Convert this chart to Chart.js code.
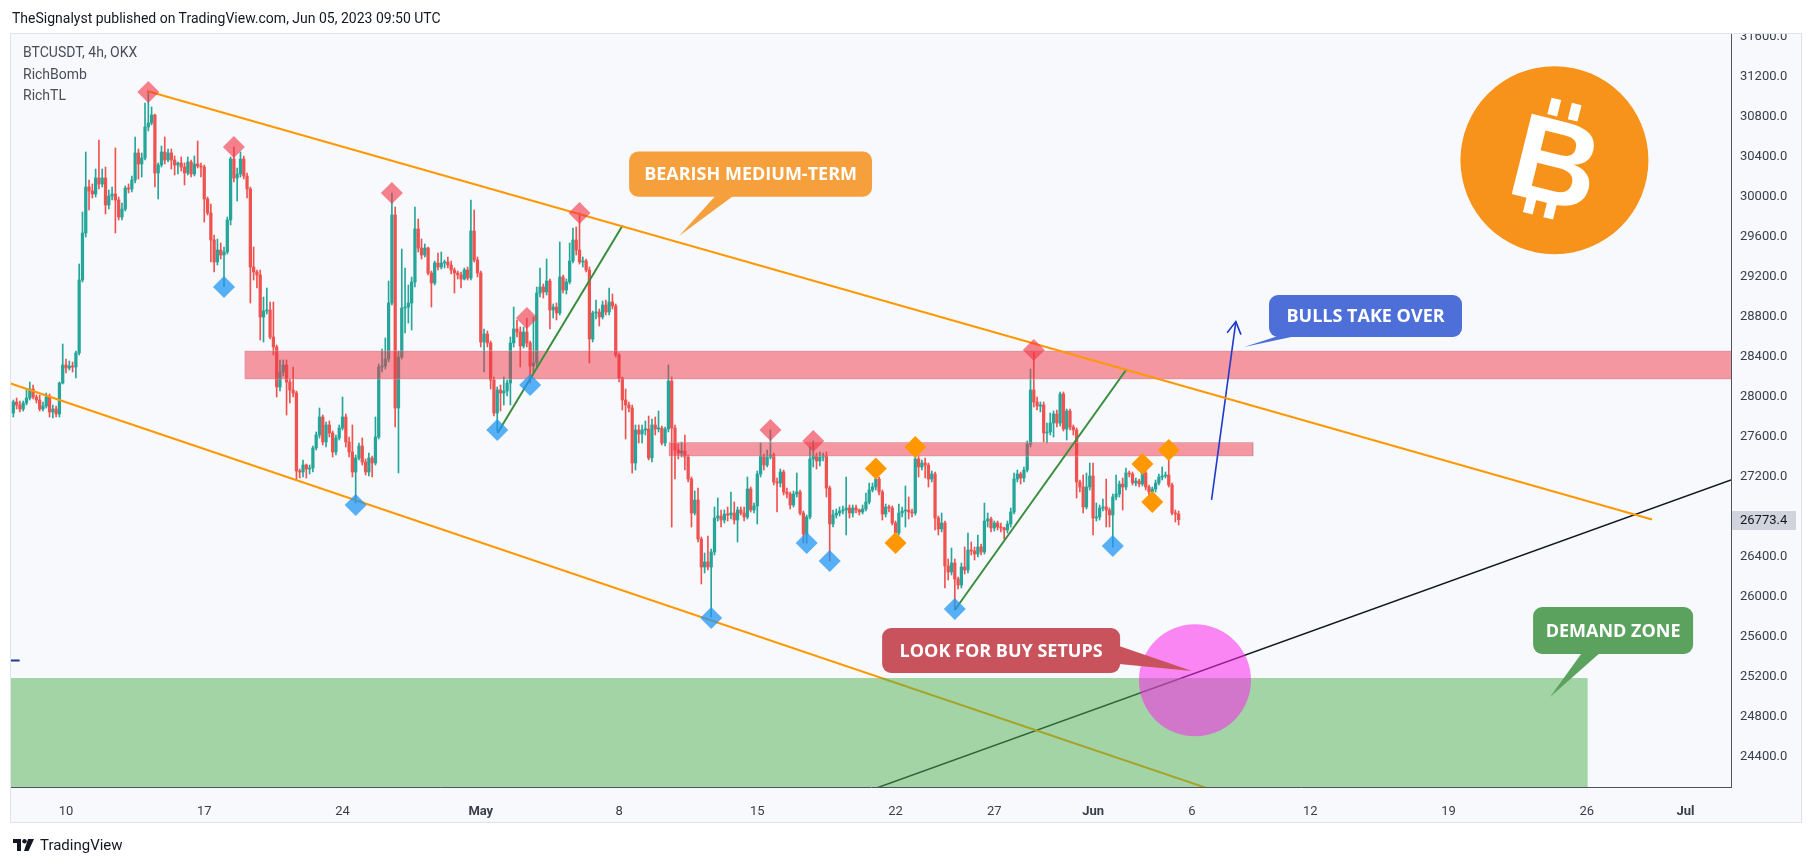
<!DOCTYPE html>
<html>
<head>
<meta charset="utf-8">
<script src="https://cdn.jsdelivr.net/npm/chart.js@4.4.0/dist/chart.umd.min.js"></script>
<style>
  html, body { margin: 0; padding: 0; background: #fff; }
  #wrap { position: relative; width: 1814px; height: 866px; overflow: hidden; }
  #chart { position: absolute; left: 0; top: 0; }
  .hdr { position: absolute; left: 12px; top: 8px; font: 14px Roboto, sans-serif; color: #131722; line-height: 20px; }
  .legend { position: absolute; left: 23px; top: 42px; font: 14px Roboto, sans-serif; color: #4a4d57; line-height: 21.5px; }
  .foot { position: absolute; left: 13px; top: 836px; font: 15px Roboto, sans-serif; color: #131722; display: flex; align-items: center; gap: 5px; }
</style>
</head>
<body>
<div id="wrap">
  <canvas id="chart" width="1814" height="866"></canvas>
  <div class="hdr">TheSignalyst published on TradingView.com, Jun 05, 2023 09:50 UTC</div>
  <div class="legend">BTCUSDT, 4h, OKX<br>RichBomb<br>RichTL</div>
  <div class="foot">
    <svg width="22" height="14" viewBox="0 0 22 14"><rect x="0" y="1" width="8" height="4" fill="#131722"/><rect x="4" y="1" width="4" height="12" fill="#131722"/><circle cx="11.5" cy="3.2" r="2.2" fill="#131722"/><polygon points="15,1 21,1 15.5,13 11,13" fill="#131722"/></svg>
    <span>TradingView</span>
  </div>
</div>
<script>
// time axis: days counted from Apr 1 2023 00:00 UTC, 4h candles from Apr 7 08:00
const firstBarDay = 6 + 1 / 3;
const barStep = 1 / 6;

const opens = [
  27840,27950,27920,27880,27940,27990, 28080,28000,27970,27880,27910,28000,
  27850,27880,27830,28140,28320,28290, 28310,28300,28440,29170,29640,30100,
  30060,30030,30190,30130,30190,29920, 30010,30030,29970,29800,29880,30090,
  30080,30170,30440,30330,30390,30700, 30740,30820,30240,30320,30450,30370,
  30440,30370,30320,30340,30300,30240, 30350,30230,30330,30310,30300,29980,
  29840,29570,29350,29470,29420,29450, 29770,30380,30190,30230,30380,30210,
  30080,29300,29250,29220,28800,28860, 28870,28600,28500,28100,28250,28320,
  28150,28070,28040,27260,27250,27320, 27280,27290,27490,27620,27800,27550,
  27720,27640,27450,27590,27690,27800, 27550,27450,27250,27390,27510,27350,
  27250,27390,27340,27600,28300,28310, 28380,28940,29820,27890,28400,28890,
  28900,28940,29150,29680,29490,29420, 29490,29240,29140,29340,29300,29340,
  29350,29320,29270,29240,29220,29180, 29270,29190,29660,29370,29240,28550,
  28630,28540,28170,27840,28070,28040, 28060,28140,28540,28680,28650,28510,
  28650,28540,28310,28340,29040,29100, 29050,29160,28870,28900,28840,29200,
  29070,29150,29360,29570,29470,29350, 29360,29270,28580,28840,28850,28800,
  28920,28850,28950,28910,28420,28190, 27970,27920,27890,27340,27670,27630,
  27670,27680,27390,27720,27680,27690, 27540,27680,28160,27690,27470,27440,
  27460,27400,27180,26840,26970,26580, 26300,26350,26300,26450,26790,26810,
  26770,26830,26820,26840,26770,26870, 26840,26800,27080,26870,26910,27230,
  27410,27320,27400,27420,27150,27140, 27250,27050,27030,26920,27030,27050,
  26840,26630,26800,27380,27410,27360, 27400,27410,27090,26730,26820,26840,
  26860,26870,26890,26840,26890,26870, 26850,26880,26950,27070,27100,27180,
  27050,26830,26900,26890,26740,26640, 26840,26860,26870,26850,26840,27380,
  27300,27340,27320,27180,27230,26790, 26680,26740,26310,26250,26340,26180,
  26120,26300,26270,26470,26460,26430, 26500,26450,26760,26780,26690,26740,
  26700,26690,26670,26730,26850,27180, 27230,27190,27270,27530,28070,27950,
  27910,27920,27640,27650,27740,27830, 27740,28030,27680,27860,27700,27670,
  27150,27100,26900,27100,27210,26790, 26800,26890,26900,26870,26820,27000,
  27030,27130,27100,27240,27230,27140, 27160,27130,27240,27100,27050,27080,
  27140,27200,27210,27220,27120,26840, 26830
];
const highs = [
  27970,27990,27960,27960,28070,28150, 28120,28020,28020,27950,28040,28030,
  27920,27910,28150,28530,28380,28360, 28350,28460,29330,29850,30450,30170,
  30130,30280,30570,30280,30300,30070, 30100,30490,30000,29940,30110,30130,
  30210,30600,30480,30440,30940,31050, 30900,30830,30340,30510,30600,30480,
  30480,30410,30350,30400,30340,30400, 30370,30410,30560,30340,30320,30000,
  29930,29620,29580,29540,29500,29800, 30400,30500,30290,30450,30410,30240,
  30100,29500,29270,29270,29000,29090, 28950,28950,28520,28370,28370,28370,
  28180,28300,28060,27280,27370,27330, 27320,27510,27650,27890,27820,27750,
  27760,27660,27620,27720,28000,27830, 27600,27720,27420,27540,27590,27380,
  27440,27410,27800,28330,28480,28590, 29160,30040,29900,28460,29480,29290,
  29120,29200,29900,29780,29580,29530, 29500,29260,29360,29440,29450,29370,
  29400,29360,29290,29260,29250,29290, 29300,29970,29870,29400,29260,28680,
  28660,28560,28200,28100,28120,28200, 28170,28600,28900,28770,28700,28700,
  28790,28560,28800,29100,29290,29130, 29380,29180,28930,28940,29550,29220,
  29180,29540,29690,29700,29840,29400, 29380,29300,28860,28970,28880,28960,
  28970,29090,29030,28930,28440,28200, 28080,27950,27920,27720,27720,27720,
  27760,27810,27780,27800,27860,27710, 27700,28320,28200,27720,27530,27550,
  27620,27420,27200,27060,27090,26600, 26440,26610,26480,26900,26990,26870,
  26870,26900,27050,26950,26900,26900, 26900,27200,27100,26940,27260,27540,
  27430,27470,27670,27440,27190,27280, 27270,27090,27050,27060,27240,27070,
  26860,26820,27500,27560,27440,27450, 27440,27450,27110,26870,26880,26900,
  26910,27200,26920,26920,26920,26880, 26920,27040,27140,27140,27200,27200,
  27070,26930,26920,26910,26760,26930, 26900,27110,27000,26880,27430,27410,
  27370,27390,27340,27260,27250,26810, 26840,26760,26380,26490,26380,26200,
  26340,26500,26640,26550,26500,26620, 26530,26940,26840,26800,26760,26760,
  26740,26700,26760,26890,27240,27270, 27250,27300,27560,28280,28450,28000,
  27950,27950,27740,27840,27860,27870, 28050,28050,27880,27880,27720,27690,
  27170,27220,27240,27340,27340,26940, 26920,26980,27180,26890,27030,27220,
  27160,27190,27290,27260,27250,27190, 27180,27270,27280,27120,27100,27170,
  27230,27300,27250,27470,27140,26870, 26860
];
const lows = [
  27800,27880,27850,27860,27920,27970, 27980,27940,27860,27860,27890,27800,
  27790,27800,27800,28130,28240,28270, 28250,28190,28420,29150,29600,29870,
  29990,30000,30080,30100,29830,29880, 29970,29640,29770,29770,29860,30040,
  30050,30140,30180,30200,30370,30660, 30720,30100,29980,30300,30330,30350,
  30280,30220,30230,30260,30120,30220, 30200,30210,30290,30200,29750,29820,
  29350,29250,29320,29380,29100,29430, 29720,30150,29960,30200,30180,29990,
  28940,29170,29090,28570,28550,28830, 28580,28420,28000,28060,28210,27820,
  27940,28000,27170,27190,27200,27190, 27230,27250,27470,27590,27520,27500,
  27600,27400,27420,27570,27670,27500, 27400,27200,26940,27370,27320,27220,
  27210,27200,27320,27580,28250,28280, 28350,28920,27700,27240,28380,28640,
  28740,28670,29100,29450,29380,29400, 29220,28900,29120,29270,29280,29290,
  29290,29230,29040,29180,29090,29170, 29170,29170,29350,29200,28500,28250,
  28500,28080,27810,27660,27860,27920, 28010,27920,28500,28600,28300,28490,
  28500,28140,28250,28300,29000,28990, 29020,28680,28790,28770,28820,29040,
  29030,29130,29340,29420,29330,29300, 29250,28340,28550,28780,28710,28780,
  28820,28820,28880,28400,28150,27870, 27580,27850,27240,27270,27540,27540,
  27620,27370,27350,27620,27650,27520, 27510,27650,26700,27180,27380,27400,
  27270,27150,26700,26820,26550,26130, 26240,26270,25800,26420,26760,26700,
  26740,26760,26780,26730,26550,26820, 26760,26780,26850,26840,26730,27200,
  27270,27300,27380,27120,26850,27100, 27020,26990,26880,26900,27000,26820,
  26540,26540,26780,27300,27280,27310, 27360,27000,26360,26700,26790,26810,
  26830,26620,26790,26800,26840,26820, 26830,26860,26930,27050,27070,27020,
  26770,26800,26850,26720,26620,26620, 26800,26700,26780,26800,26820,27200,
  27270,27190,27100,27150,26670,26620, 26650,26090,26170,26220,25870,26080,
  26090,26230,26240,26420,26370,26400, 26420,26430,26700,26650,26660,26670,
  26650,26580,26640,26700,26830,27150, 27130,27150,27250,27500,27900,27870,
  27850,27550,27540,27620,27600,27700, 27710,27660,27570,27670,27620,26990,
  27050,26840,26880,27070,26620,26760, 26770,26860,26700,26700,26500,26970,
  27000,26870,27070,27200,27120,27110, 27100,27110,27070,27000,27000,27050,
  27120,27170,27190,27100,26820,26750, 26720
];
const closes = [
  27950,27920,27880,27940,27990,28080, 28000,27970,27880,27910,28000,27850,
  27880,27830,28140,28320,28290,28310, 28300,28440,29170,29640,30100,30060,
  30030,30190,30130,30190,29920,30010, 30030,29970,29800,29880,30090,30080,
  30170,30440,30330,30390,30700,30740, 30820,30240,30320,30450,30370,30440,
  30370,30320,30340,30300,30240,30350, 30230,30330,30310,30300,29980,29840,
  29570,29350,29470,29420,29450,29770, 30380,30190,30230,30380,30210,30080,
  29300,29250,29220,28800,28860,28870, 28600,28500,28100,28250,28320,28150,
  28070,28040,27260,27250,27320,27280, 27290,27490,27620,27800,27550,27720,
  27640,27450,27590,27690,27800,27550, 27450,27250,27390,27510,27350,27250,
  27390,27340,27600,28300,28310,28380, 28940,29820,27890,28400,28890,28900,
  28940,29150,29680,29490,29420,29490, 29240,29140,29340,29300,29340,29350,
  29320,29270,29240,29220,29180,29270, 29190,29660,29370,29240,28550,28630,
  28540,28170,27840,28070,28040,28060, 28140,28540,28680,28650,28510,28650,
  28540,28310,28340,29040,29100,29050, 29160,28870,28900,28840,29200,29070,
  29150,29360,29570,29470,29350,29360, 29270,28580,28840,28850,28800,28920,
  28850,28950,28910,28420,28190,27970, 27920,27890,27340,27670,27630,27670,
  27680,27390,27720,27680,27690,27540, 27680,28160,27690,27470,27440,27460,
  27400,27180,26840,26970,26580,26300, 26350,26300,26450,26790,26810,26770,
  26830,26820,26840,26770,26870,26840, 26800,27080,26870,26910,27230,27410,
  27320,27400,27420,27150,27140,27250, 27050,27030,26920,27030,27050,26840,
  26630,26800,27380,27410,27360,27400, 27410,27090,26730,26820,26840,26860,
  26870,26890,26840,26890,26870,26850, 26880,26950,27070,27100,27180,27050,
  26830,26900,26890,26740,26640,26840, 26860,26870,26850,26840,27380,27300,
  27340,27320,27180,27230,26790,26680, 26740,26310,26250,26340,26180,26120,
  26300,26270,26470,26460,26430,26500, 26450,26760,26780,26690,26740,26700,
  26690,26670,26730,26850,27180,27230, 27190,27270,27530,28070,27950,27910,
  27920,27640,27650,27740,27830,27740, 28030,27680,27860,27700,27670,27150,
  27100,26900,27100,27210,26790,26800, 26890,26900,26870,26820,27000,27030,
  27130,27100,27240,27230,27140,27160, 27130,27240,27100,27050,27080,27140,
  27200,27210,27220,27120,26840,26830, 26773.4
];

// x axis labels (day positions) and price ticks
const tickDays = [9, 16, 23, 30, 37, 44, 51, 56, 61, 66, 72, 79, 86, 91];
const tickLabels = ['10', '17', '24', 'May', '8', '15', '22', '27', 'Jun', '6', '12', '19', '26', 'Jul'];
const monthLabels = ['May', 'Jun', 'Jul'];
const priceTicks = [24400, 24800, 25200, 25600, 26000, 26400, 26800, 27200, 27600, 28000,
  28400, 28800, 29200, 29600, 30000, 30400, 30800, 31200, 31600];

// RichBomb signals: bar index + price
const sellBars = [41, 67, 115, 156, 172, 230, 243, 310];
const sellPrices = [31050, 30500, 30040, 28790, 29840, 27670, 27560, 28470];
const buyBars = [64, 104, 147, 157, 212, 241, 248, 286, 334];
const buyPrices = [29100, 26920, 27670, 28120, 25790, 26540, 26360, 25880, 26510];
const warnBars = [262, 268, 274, 343, 346, 351];
const warnPrices = [27285, 26540, 27500, 27330, 26950, 27470];

// drawings as [day, price] points
const channelUpper = [[13.10, 31060], [89.30, 26775]];
const channelLower = [[6.0, 28148], [70.0, 23873]];
const supportLine = [[48.0, 23945], [93.3, 27170]];
const greenLine1 = [[30.85, 27640], [37.18, 29714]];
const greenLine2 = [[54.0, 25870], [62.67, 28270]];
const arrowShaft = [[67.0, 26972], [68.23, 28754]];
const arrowHead = [[67.79, 28643], [68.23, 28754], [68.49, 28624]];
const blueDash = [[6.1, 25365], [6.65, 25365]];
// zones as [dayFrom, dayTo, priceLow, priceHigh]
const resistanceZone = [18.05, 94, 28180, 28460];
const minorZone = [39.53, 69.1, 27410, 27545];
const demandZone = [5.0, 86.05, 23500, 25190];
const buyCircle = [66.16, 25167];
const btcLogo = [84.36, 30368];

// callouts: box [dayFrom, dayTo, priceTop, priceBottom], tip [day, price]
const calloutTexts = ['BEARISH MEDIUM-TERM', 'BULLS TAKE OVER', 'LOOK FOR BUY SETUPS', 'DEMAND ZONE'];
const calloutBoxes = [[37.51, 49.81, 30454, 30003], [69.91, 79.68, 29020, 28600], [50.32, 62.37, 25690, 25240], [83.28, 91.38, 25900, 25430]];
const calloutTips = [[40.04, 29610], [68.65, 28500], [66.01, 25260], [84.14, 25000]];
const calloutColors = ['#f6a03d', '#4e6fd8', '#c9535c', '#5ba25f'];

const UP = '#26a69a';
const DOWN = '#ef5350';
const barX = i => firstBarDay + i * barStep;
const pts = arr => arr.map(p => ({ x: p[0], y: p[1] }));
const candleColors = opens.map((o, i) => closes[i] >= o ? UP : DOWN);

function line(points, color, width, order) {
  return { type: 'line', data: pts(points), borderColor: color, borderWidth: width,
    pointRadius: 0, fill: false, tension: 0, order };
}
function zoneFill(z, color, order) {
  return { type: 'line', data: [{ x: z[0], y: z[3] }, { x: z[1], y: z[3] }],
    borderColor: 'rgba(0,0,0,0)', borderWidth: 0, pointRadius: 0,
    fill: { value: z[2] }, backgroundColor: color, order };
}
function zoneEdge(z, order) {
  return line([[z[0], z[3]], [z[1], z[3]], [z[1], z[2]], [z[0], z[2]], [z[0], z[3]]],
    'rgba(190,192,200,0.55)', 1, order);
}
function signals(bars, prices, color) {
  return { type: 'scatter', data: bars.map((b, i) => ({ x: barX(b), y: prices[i] })),
    pointStyle: 'rectRot', pointRadius: 11, pointBorderWidth: 0,
    backgroundColor: color, order: 1 };
}

const panePlugin = {
  id: 'pane',
  beforeDraw(chart) {
    const ctx = chart.ctx;
    ctx.save();
    ctx.fillStyle = '#ffffff';
    ctx.fillRect(0, 0, chart.width, chart.height);
    ctx.fillStyle = '#f8f9fd';
    ctx.fillRect(11, 34, 1790, 788);
    ctx.strokeStyle = '#e0e3eb';
    ctx.lineWidth = 1;
    ctx.strokeRect(10.5, 33.5, 1791, 789);
    ctx.restore();
  },
  afterDatasetsDraw(chart) {
    const ctx = chart.ctx;
    const xs = chart.scales.x, ys = chart.scales.y;
    const px = d => xs.getPixelForValue(d);
    const py = p => ys.getPixelForValue(p);

    // bitcoin glyph on the logo circle
    ctx.save();
    ctx.translate(px(btcLogo[0]), py(btcLogo[1]));
    ctx.rotate(14 * Math.PI / 180);
    ctx.fillStyle = '#ffffff';
    ctx.font = 'bold 120px "Liberation Sans", Arial, sans-serif';
    ctx.textAlign = 'center';
    ctx.textBaseline = 'alphabetic';
    ctx.fillText('B', 2, 43);
    ctx.fillRect(-18, -60, 10, 17);
    ctx.fillRect(3, -60, 10, 17);
    ctx.fillRect(-18, 41, 10, 17);
    ctx.fillRect(3, 41, 10, 17);
    ctx.restore();

    // callouts
    ctx.save();
    ctx.beginPath();
    ctx.rect(chart.chartArea.left, chart.chartArea.top, chart.chartArea.right - chart.chartArea.left, chart.chartArea.bottom - chart.chartArea.top);
    ctx.clip();
    calloutTexts.forEach((txt, i) => {
      const b = calloutBoxes[i];
      const x = px(b[0]), w = px(b[1]) - x, y = py(b[2]), h = py(b[3]) - y;
      const r = 9;
      const tx = px(calloutTips[i][0]), ty = py(calloutTips[i][1]);
      const cx = x + w / 2, cy = y + h / 2;
      const dx = tx - cx, dy = ty - cy;
      const tH = (w / 2) / Math.abs(dx || 1e-9), tV = (h / 2) / Math.abs(dy || 1e-9);
      const hw = 9;
      let p1, p2;
      if (tH < tV) {
        const ex = cx + Math.sign(dx) * (w / 2 - 1);
        let ey = cy + dy * tH;
        ey = Math.max(y + r + hw, Math.min(y + h - r - hw, ey));
        p1 = [ex, ey - hw]; p2 = [ex, ey + hw];
      } else {
        const ey = cy + Math.sign(dy) * (h / 2 - 1);
        let ex = cx + dx * tV;
        ex = Math.max(x + r + hw, Math.min(x + w - r - hw, ex));
        p1 = [ex - hw, ey]; p2 = [ex + hw, ey];
      }
      ctx.fillStyle = calloutColors[i];
      ctx.beginPath();
      ctx.moveTo(x + r, y);
      ctx.arcTo(x + w, y, x + w, y + h, r);
      ctx.arcTo(x + w, y + h, x, y + h, r);
      ctx.arcTo(x, y + h, x, y, r);
      ctx.arcTo(x, y, x + w, y, r);
      ctx.closePath();
      ctx.fill();
      ctx.beginPath();
      ctx.moveTo(p1[0], p1[1]);
      ctx.lineTo(tx, ty);
      ctx.lineTo(p2[0], p2[1]);
      ctx.closePath();
      ctx.fill();
      ctx.fillStyle = '#ffffff';
      ctx.font = 'bold 18px "Open Sans", Roboto, sans-serif';
      ctx.textAlign = 'center';
      ctx.textBaseline = 'middle';
      ctx.fillText(txt, cx, cy + 1);
    });
    ctx.restore();
  },
  afterDraw(chart) {
    const ctx = chart.ctx;
    const ys = chart.scales.y;
    // hide the part of the top price label above the pane
    ctx.save();
    ctx.fillStyle = '#ffffff';
    ctx.fillRect(1720, 0, 94, 33);
    ctx.strokeStyle = '#e0e3eb';
    ctx.beginPath();
    ctx.moveTo(1720, 33.5);
    ctx.lineTo(1801.5, 33.5);
    ctx.stroke();
    // last price label
    const last = closes[closes.length - 1];
    const y = ys.getPixelForValue(last);
    ctx.fillStyle = '#d1d4dc';
    ctx.fillRect(1732, Math.round(y) - 9, 64, 19);
    ctx.fillStyle = '#131722';
    ctx.font = '13px Roboto, sans-serif';
    ctx.textBaseline = 'middle';
    ctx.textAlign = 'left';
    ctx.fillText(last.toFixed(1), 1740, Math.round(y) + 1);
    ctx.restore();
  }
};

const datasets = [
  { type: 'bar', data: opens.map((o, i) => ({ x: barX(i), y: [lows[i], highs[i]] })),
    backgroundColor: candleColors, barThickness: 1, grouped: false, order: 9 },
  { type: 'bar', data: opens.map((o, i) => ({ x: barX(i), y: [o, closes[i]] })),
    backgroundColor: candleColors, barThickness: 2.6, minBarLength: 1, grouped: false, order: 8 },
  zoneFill(resistanceZone, 'rgba(242,54,69,0.5)', 7),
  zoneEdge(resistanceZone, 7),
  zoneFill(minorZone, 'rgba(242,54,69,0.5)', 7),
  zoneEdge(minorZone, 7),
  line(channelUpper, '#ff9800', 2, 6),
  line(channelLower, '#ff9800', 2, 6),
  line(greenLine1, '#388e3c', 2, 6),
  line(greenLine2, '#388e3c', 2, 6),
  line(supportLine, '#131722', 1.5, 6),
  line(arrowShaft, '#1f3bc9', 1.6, 6),
  line(arrowHead, '#1f3bc9', 1.6, 6),
  line(blueDash, '#1e3a8a', 2, 6),
  zoneFill(demandZone, 'rgba(76,175,80,0.5)', 5),
  { type: 'scatter', data: pts([buyCircle]), pointRadius: 56, pointBorderWidth: 0,
    backgroundColor: 'rgba(250,40,235,0.55)', order: 4 },
  { type: 'scatter', data: pts([btcLogo]), pointRadius: 94, pointBorderWidth: 0,
    backgroundColor: '#f7931a', order: 4 },
  signals(sellBars, sellPrices, 'rgba(242,54,69,0.62)'),
  signals(buyBars, buyPrices, 'rgba(33,150,243,0.75)'),
  signals(warnBars, warnPrices, '#ff9800')
];

Chart.defaults.font.family = 'Roboto, sans-serif';
new Chart(document.getElementById('chart'), {
  type: 'bar',
  data: { datasets },
  options: {
    responsive: false,
    animation: false,
    events: [],
    layout: { autoPadding: false, padding: { left: 11, top: 34, right: 13, bottom: 44 } },
    plugins: { legend: { display: false }, tooltip: { enabled: false } },
    scales: {
      x: {
        type: 'linear',
        min: 6.215,
        max: 93.3,
        offset: false,
        grid: { display: false, offset: false },
        border: { display: true, color: '#50535e', width: 1 },
        afterBuildTicks: s => { s.ticks = tickDays.map(v => ({ value: v })); },
        afterFit: s => { s.height = 35; },
        ticks: {
          autoSkip: false,
          maxRotation: 0,
          padding: 9,
          color: '#3b3e4a',
          font: c => ({ family: 'Roboto, sans-serif', size: 13,
            weight: c.tick && monthLabels.includes(tickLabels[tickDays.indexOf(c.tick.value)]) ? 'bold' : 'normal' }),
          callback: v => tickLabels[tickDays.indexOf(v)]
        }
      },
      y: {
        position: 'right',
        min: 24100,
        max: 31630,
        grid: { display: false, drawTicks: false },
        border: { display: true, color: '#50535e', width: 1 },
        afterBuildTicks: s => { s.ticks = priceTicks.map(v => ({ value: v })); },
        afterFit: s => { s.width = 70; },
        ticks: {
          padding: 9,
          color: '#3b3e4a',
          font: { size: 13 },
          callback: v => Number(v).toFixed(1)
        }
      }
    }
  },
  plugins: [panePlugin]
});
</script>
</body>
</html>
